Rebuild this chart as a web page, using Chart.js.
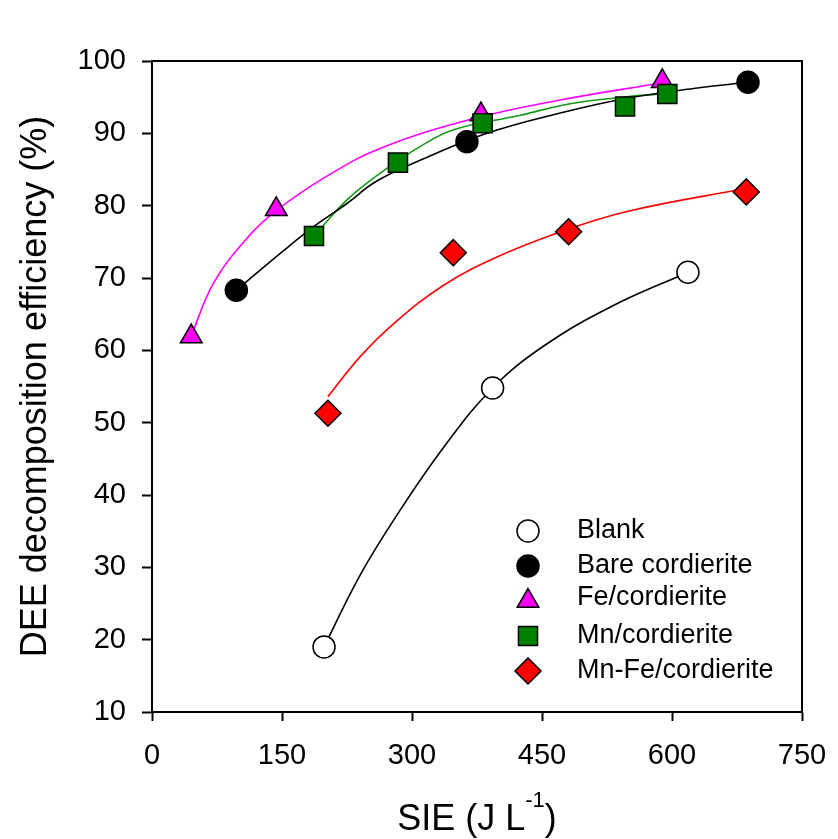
<!DOCTYPE html>
<html lang="en">
<head>
<meta charset="UTF-8">
<title>DEE decomposition efficiency vs SIE</title>
<script src="https://cdn.jsdelivr.net/npm/chart.js"></script>
<style>
  html, body { margin: 0; padding: 0; background: #fff; }
  #chart { display: block; }
</style>
</head>
<body>
<canvas id="chart" width="838" height="839"></canvas>
<script>
// values
const seriesNames = ['Blank', 'Bare cordierite', 'Fe/cordierite', 'Mn/cordierite', 'Mn-Fe/cordierite'];
const xTickValues = [0, 150, 300, 450, 600, 750];
const yTickValues = [10, 20, 30, 40, 50, 60, 70, 80, 90, 100];

// measured points
const blankX = [198.5, 393, 618.4];
const blankY = [19.0, 54.8, 70.8];
const bareX = [97.3, 363.4, 687.7];
const bareY = [68.3, 88.85, 97.06];
const feX = [45.3, 143.4, 379.6, 588.8];
const feY = [61.9, 79.5, 92.6, 97.2];
const mnX = [186.9, 283.8, 381.5, 545.8, 594.6];
const mnY = [75.8, 85.95, 91.4, 93.7, 95.44];
const mnfeX = [203, 347.6, 480.7, 685.7];
const mnfeY = [51.3, 73.5, 76.4, 81.9];

// fitted curves
const blankFitX = [198.5, 240, 283, 336, 393, 452, 529, 618.4];
const blankFitY = [19.0, 28.9, 37.3, 46.5, 54.8, 60.6, 66.0, 70.8];
const bareFitX = [97.3, 148, 186.5, 225, 258, 310, 386.5, 471, 548, 625, 687.7];
const bareFitY = [68.3, 73.4, 77.1, 80.3, 83.3, 86.3, 90.0, 92.8, 94.85, 96.2, 97.06];
const feFitX = [45.3, 71, 109.6, 143.4, 198, 263, 367, 471, 588.8];
const feFitY = [62.0, 69.3, 75.5, 79.3, 83.8, 87.9, 91.9, 94.6, 97.0];
const mnFitX = [186.9, 225, 263.4, 309.6, 348, 425, 482.6, 548, 594.6];
const mnFitY = [75.8, 80.8, 84.5, 88.2, 90.5, 92.5, 94.1, 95.05, 95.5];
const mnfeFitX = [203, 240, 279, 336.5, 398, 467, 548, 685.7];
const mnfeFitY = [53.6, 59.1, 63.7, 69.0, 72.9, 76.2, 79.2, 82.4];

const toPoints = (xs, ys) => xs.map((x, i) => ({ x: x, y: ys[i] }));

const FONT = "'Liberation Sans', Arial, Helvetica, sans-serif";
Chart.defaults.font.family = FONT;
Chart.defaults.color = '#000';

const markers = [
  { pointStyle: 'circle', radius: 11, fill: '#ffffff' },
  { pointStyle: 'circle', radius: 11, fill: '#000000' },
  { pointStyle: 'triangle', radius: 12.5, fill: '#ff00ff' },
  { pointStyle: 'rect', radius: 13.5, fill: '#008000' },
  { pointStyle: 'rectRot', radius: 13, fill: '#ff0000' }
];

function fitLine(xs, ys, color) {
  return {
    data: toPoints(xs, ys),
    showLine: true,
    borderColor: color,
    borderWidth: 1.6,
    pointRadius: 0,
    pointHoverRadius: 0,
    tension: 0.4,
    fill: false,
    order: 10,
    clip: false
  };
}

function pointSet(i, xs, ys) {
  const m = markers[i];
  return {
    label: seriesNames[i],
    data: toPoints(xs, ys),
    showLine: false,
    pointStyle: m.pointStyle,
    pointRadius: m.radius,
    pointHoverRadius: m.radius,
    backgroundColor: m.fill,
    borderColor: '#000',
    borderWidth: 1.5,
    order: 5 - i,
    clip: false
  };
}

// legend inside the plot, lower right
const insideLegend = {
  id: 'insideLegend',
  afterDraw(chart) {
    const ctx = chart.ctx;
    const area = chart.chartArea;
    const mx = area.left + 376;
    const tx = area.left + 425;
    ctx.save();
    ctx.font = '27px ' + FONT;
    ctx.textBaseline = 'middle';
    ctx.textAlign = 'left';
    seriesNames.forEach((name, i) => {
      const y = area.top + 470 + i * 35;
      const m = markers[i];
      ctx.fillStyle = m.fill;
      ctx.strokeStyle = '#000';
      ctx.lineWidth = 1.5;
      Chart.helpers.drawPoint(ctx, { pointStyle: m.pointStyle, radius: m.radius, rotation: 0, borderWidth: 1.5 }, mx, y);
      ctx.fillStyle = '#000';
      ctx.fillText(name, tx, i === 2 ? y - 3 : y);
    });
    ctx.restore();
  }
};

// top and right frame lines plus x title with superscript
const frame = {
  id: 'frame',
  afterDraw(chart) {
    const ctx = chart.ctx;
    const a = chart.chartArea;
    ctx.save();
    ctx.strokeStyle = '#000';
    ctx.lineWidth = 2;
    ctx.beginPath();
    ctx.moveTo(a.left, a.top);
    ctx.lineTo(a.right, a.top);
    ctx.lineTo(a.right, a.bottom);
    ctx.stroke();

    const big = '36px ' + FONT;
    const small = '22px ' + FONT;
    const base = chart.height - 9;
    ctx.font = big;
    const w1 = ctx.measureText('SIE (J L').width;
    const w3 = ctx.measureText(')').width;
    ctx.font = small;
    const w2 = ctx.measureText('-1').width;
    let x = (a.left + a.right) / 2 - (w1 + w2 + w3) / 2;
    ctx.fillStyle = '#000';
    ctx.textBaseline = 'alphabetic';
    ctx.textAlign = 'left';
    ctx.font = big;
    ctx.fillText('SIE (J L', x, base);
    x += w1;
    ctx.font = small;
    ctx.fillText('-1', x, base - 23);
    x += w2;
    ctx.font = big;
    ctx.fillText(')', x, base);
    ctx.restore();
  }
};

const ctx = document.getElementById('chart').getContext('2d');
new Chart(ctx, {
  type: 'scatter',
  data: {
    datasets: [
      fitLine(blankFitX, blankFitY, '#000000'),
      fitLine(bareFitX, bareFitY, '#000000'),
      fitLine(feFitX, feFitY, '#ff00ff'),
      fitLine(mnFitX, mnFitY, '#129a12'),
      fitLine(mnfeFitX, mnfeFitY, '#ff0000'),
      pointSet(0, blankX, blankY),
      pointSet(1, bareX, bareY),
      pointSet(2, feX, feY),
      pointSet(3, mnX, mnY),
      pointSet(4, mnfeX, mnfeY)
    ]
  },
  options: {
    responsive: false,
    animation: false,
    events: [],
    layout: { padding: { top: 61, right: 36, left: 0, bottom: 0 } },
    plugins: {
      legend: { display: false },
      tooltip: { enabled: false }
    },
    scales: {
      x: {
        type: 'linear',
        min: 0,
        max: 750,
        afterBuildTicks: (scale) => { scale.ticks = xTickValues.map(v => ({ value: v })); },
        afterFit: (scale) => {
          scale.height = 127;
          scale.paddingLeft = 0;
          scale.paddingRight = 0;
        },
        grid: { drawOnChartArea: false, drawTicks: true, tickLength: 9, tickWidth: 2, tickColor: '#000' },
        border: { display: true, color: '#000', width: 2 },
        ticks: { font: { size: 29 }, color: '#000', padding: 18, maxRotation: 0 },
        title: { display: false }
      },
      y: {
        type: 'linear',
        min: 10,
        max: 100,
        afterBuildTicks: (scale) => { scale.ticks = yTickValues.map(v => ({ value: v })); },
        afterFit: (scale) => {
          scale.width = 152;
          scale.paddingTop = 0;
          scale.paddingBottom = 0;
        },
        grid: { drawOnChartArea: false, drawTicks: true, tickLength: 10, tickWidth: 2, tickColor: '#000' },
        border: { display: true, color: '#000', width: 2 },
        ticks: { font: { size: 29 }, color: '#000', padding: 16 },
        title: {
          display: true,
          text: 'DEE decomposition efficiency (%)',
          font: { size: 36 },
          color: '#000',
          padding: { top: 14, bottom: 0 }
        }
      }
    }
  },
  plugins: [frame, insideLegend]
});
</script>
</body>
</html>
